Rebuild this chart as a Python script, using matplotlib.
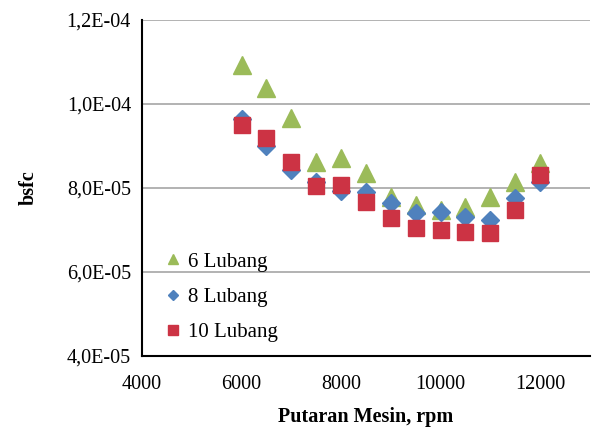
import numpy as np
import matplotlib
matplotlib.use("Agg")
import matplotlib.pyplot as plt
from matplotlib.ticker import FuncFormatter

# data
rpm = [6000, 6500, 7000, 7500, 8000, 8500, 9000, 9500, 10000, 10500, 11000, 11500, 12000]
bsfc_6 = [1.093e-4, 1.038e-4, 9.67e-5, 8.62e-5, 8.71e-5, 8.36e-5, 7.79e-5, 7.60e-5, 7.47e-5, 7.55e-5, 7.79e-5, 8.14e-5, 8.60e-5]
bsfc_8 = [9.64e-5, 9.00e-5, 8.43e-5, 8.14e-5, 7.93e-5, 7.90e-5, 7.64e-5, 7.40e-5, 7.42e-5, 7.31e-5, 7.24e-5, 7.76e-5, 8.14e-5]
bsfc_10 = [9.50e-5, 9.19e-5, 8.62e-5, 8.04e-5, 8.07e-5, 7.67e-5, 7.29e-5, 7.05e-5, 7.00e-5, 6.95e-5, 6.93e-5, 7.48e-5, 8.31e-5]
labels = ["6 Lubang", "8 Lubang", "10 Lubang"]

plt.rcParams["font.family"] = ["Liberation Serif", "DejaVu Serif"]

fig = plt.figure(figsize=(5.97, 4.34), dpi=100)
ax = fig.add_axes([0.238, 0.180, 0.750, 0.774])

ax.plot(rpm, bsfc_6, linestyle="none", marker="^", markersize=13,
        color="#9BBB59", label=labels[0], zorder=3)
ax.plot(rpm, bsfc_8, linestyle="none", marker="D", markersize=9,
        color="#4F81BD", label=labels[1], zorder=4)
ax.plot(rpm, bsfc_10, linestyle="none", marker="s", markersize=12,
        color="#CC3344", label=labels[2], zorder=5)

ax.set_xlim(4000, 13000)
ax.set_ylim(4e-5, 1.2e-4)
ax.set_xticks([4000, 6000, 8000, 10000, 12000])
ax.set_yticks([4e-5, 6e-5, 8e-5, 1e-4, 1.2e-4])
ax.yaxis.set_major_formatter(FuncFormatter(lambda v, p: ("%.1E" % v).replace(".", ",")))

ax.grid(axis="y", color="#a6a6a6", linewidth=1.2)
ax.set_axisbelow(True)
ax.tick_params(length=0, labelsize=14.5)
ax.tick_params(axis="x", pad=14)
ax.tick_params(axis="y", pad=8)
for s in ["top", "right"]:
    ax.spines[s].set_visible(False)
for s in ["left", "bottom"]:
    ax.spines[s].set_linewidth(1.5)
    ax.spines[s].set_color("black")

ax.set_xlabel("Putaran Mesin, rpm", fontsize=14.5, fontweight="bold", labelpad=9)
ax.set_ylabel("bsfc", fontsize=14.5, fontweight="bold", labelpad=20)

ax.legend(loc="lower left", bbox_to_anchor=(0.0, -0.015), frameon=False,
          fontsize=15, handletextpad=0.1, labelspacing=0.75, handlelength=1.2,
          markerscale=0.55)

fig.savefig("out.png", dpi=100)
